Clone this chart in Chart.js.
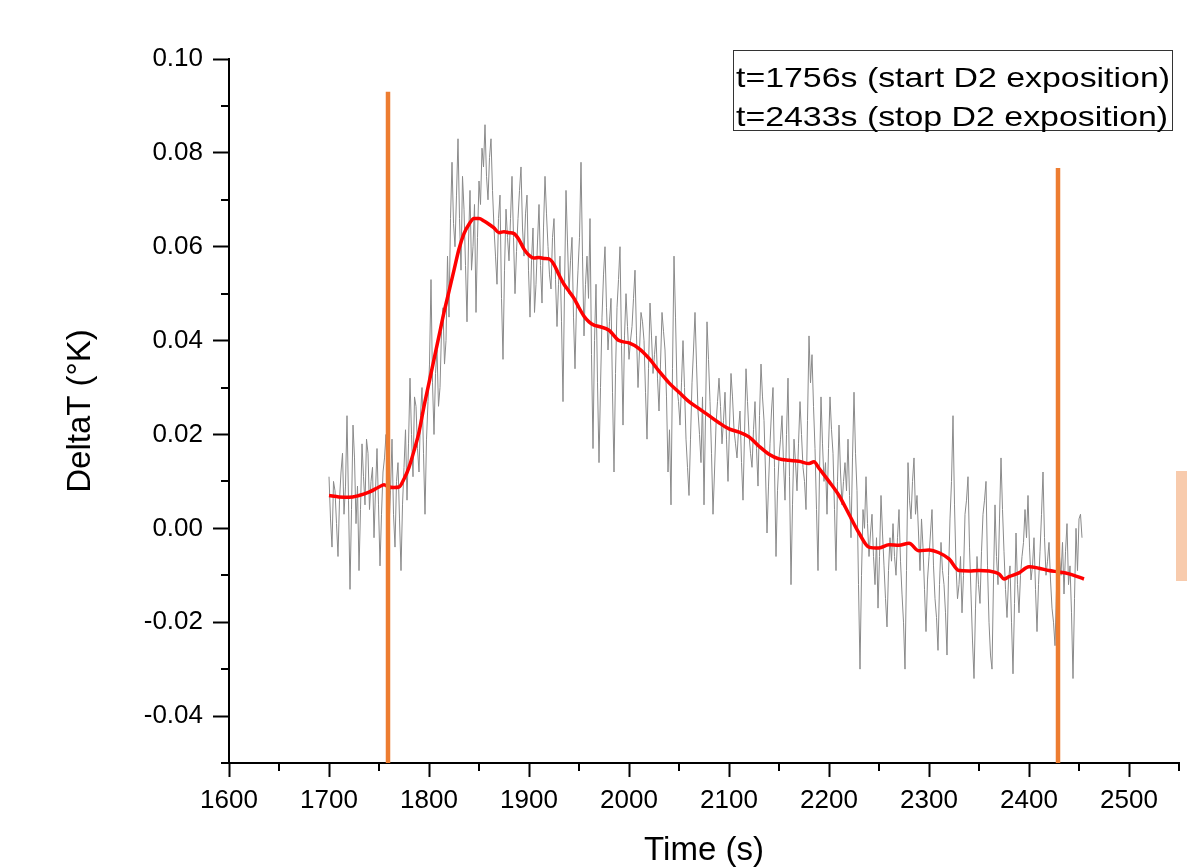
<!DOCTYPE html>
<html><head><meta charset="utf-8">
<script src="https://cdn.jsdelivr.net/npm/chart.js@4.4.1/dist/chart.umd.min.js"></script>
<style>html,body{margin:0;padding:0;background:#fff;overflow:hidden;}</style>
</head><body>
<canvas id="c" width="1187" height="867"></canvas>
<script>
// ---- data ----
const timeS = [
1700,1703,1706,1709,1712,1715,1718,1721,1724,1727,
1730,1733,1736,1739,1742,1745,1748,1751,1754,1757,
1760,1763,1766,1769,1772,1775,1778,1781,1784,1787,
1790,1793,1796,1799,1802,1805,1808,1811,1814,1817,
1820,1823,1826,1829,1832,1835,1838,1841,1844,1847,
1850,1853,1856,1859,1862,1865,1868,1871,1874,1877,
1880,1883,1886,1889,1892,1895,1898,1901,1904,1907,
1910,1913,1916,1919,1922,1925,1928,1931,1934,1937,
1940,1943,1946,1949,1952,1955,1958,1961,1964,1967,
1970,1973,1976,1979,1982,1985,1988,1991,1994,1997,
2000,2003,2006,2009,2012,2015,2018,2021,2024,2027,
2030,2033,2036,2039,2042,2045,2048,2051,2054,2057,
2060,2063,2066,2069,2072,2075,2078,2081,2084,2087,
2090,2093,2096,2099,2102,2105,2108,2111,2114,2117,
2120,2123,2126,2129,2132,2135,2138,2141,2144,2147,
2150,2153,2156,2159,2162,2165,2168,2171,2174,2177,
2180,2183,2186,2189,2192,2195,2198,2201,2204,2207,
2210,2213,2216,2219,2222,2225,2228,2231,2234,2237,
2240,2243,2246,2249,2252,2255,2258,2261,2264,2267,
2270,2273,2276,2279,2282,2285,2288,2291,2294,2297,
2300,2303,2306,2309,2312,2315,2318,2321,2324,2327,
2330,2333,2336,2339,2342,2345,2348,2351,2354,2357,
2360,2363,2366,2369,2372,2375,2378,2381,2384,2387,
2390,2393,2396,2399,2402,2405,2408,2411,2414,2417,
2420,2423,2426,2429,2432,2435,2438,2441,2444,2447,
2450,2453];

const deltaT = [
0.011,-0.004,0.008,-0.006,0.012,0.003,0.024,-0.013,0.022,0.001,
-0.009,0.018,0.005,0.016,0.010,-0.002,0.017,-0.008,0.012,0.020,
0.000,0.019,-0.004,0.014,-0.009,0.013,0.006,0.032,0.011,0.026,
0.012,0.030,0.003,0.027,0.053,0.020,0.038,0.030,0.047,0.040,
0.045,0.078,0.060,0.083,0.055,0.068,0.044,0.072,0.060,0.046,
0.074,0.081,0.086,0.070,0.083,0.064,0.052,0.071,0.036,0.068,
0.057,0.075,0.050,0.066,0.077,0.058,0.071,0.045,0.064,0.052,
0.069,0.048,0.075,0.060,0.051,0.066,0.043,0.058,0.027,0.072,
0.050,0.062,0.034,0.055,0.078,0.041,0.058,0.066,0.017,0.052,
0.014,0.045,0.060,0.038,0.049,0.012,0.047,0.060,0.022,0.050,
0.036,0.043,0.055,0.030,0.046,0.040,0.019,0.048,0.033,0.041,
0.025,0.046,0.038,0.012,0.005,0.058,0.030,0.022,0.040,0.019,
0.007,0.031,0.046,0.025,0.014,0.005,0.044,0.027,0.003,0.022,
0.032,0.018,0.029,0.010,0.033,0.021,0.015,0.025,0.006,0.034,
0.020,0.013,0.027,0.009,0.035,0.023,-0.001,0.018,0.030,-0.006,
0.015,0.024,0.006,0.032,-0.012,0.019,0.008,0.027,0.013,0.004,
0.041,0.037,0.017,-0.009,0.028,0.010,0.003,0.028,0.016,-0.009,
0.022,0.005,0.014,0.019,-0.002,0.029,0.008,-0.030,0.004,0.011,
-0.006,0.003,-0.012,-0.017,0.007,-0.008,-0.021,-0.002,0.001,-0.010,
0.004,-0.014,-0.030,0.014,0.002,0.015,0.007,-0.009,-0.004,-0.022,
-0.006,0.004,-0.015,-0.026,-0.003,-0.012,-0.027,0.002,0.024,-0.008,
-0.012,-0.018,0.003,0.011,-0.014,-0.032,-0.006,-0.016,0.003,0.010,
-0.020,-0.030,0.005,-0.012,0.015,-0.005,-0.019,-0.008,-0.031,-0.001,
-0.018,-0.006,0.004,0.007,-0.011,-0.002,-0.022,-0.005,0.012,-0.010,
-0.003,-0.017,-0.025,-0.004,-0.010,-0.014,0.001,-0.008,-0.032,0.000,
0.002,-0.002];

// samples taken half-way between the ones above
const timeMid = [
1701.5,1704.5,1707.5,1710.5,1713.5,1716.5,1719.5,1722.5,1725.5,1728.5,
1731.5,1734.5,1737.5,1740.5,1743.5,1746.5,1749.5,1752.5,1755.5,1758.5,
1761.5,1764.5,1767.5,1770.5,1773.5,1776.5,1779.5,1782.5,1785.5,1788.5,
1791.5,1794.5,1797.5,1800.5,1803.5,1806.5,1809.5,1812.5,1815.5,1818.5,
1821.5,1824.5,1827.5,1830.5,1833.5,1836.5,1839.5,1842.5,1845.5,1848.5,
1851.5,1854.5,1857.5,1860.5,1863.5,1866.5,1869.5,1872.5,1875.5,1878.5,
1881.5,1884.5,1887.5,1890.5,1893.5,1896.5,1899.5,1902.5,1905.5,1908.5,
1911.5,1914.5,1917.5,1920.5,1923.5,1926.5,1929.5,1932.5,1935.5,1938.5,
1941.5,1944.5,1947.5,1950.5,1953.5,1956.5,1959.5,1962.5,1965.5,1968.5,
1971.5,1974.5,1977.5,1980.5,1983.5,1986.5,1989.5,1992.5,1995.5,1998.5,
2001.5,2004.5,2007.5,2010.5,2013.5,2016.5,2019.5,2022.5,2025.5,2028.5,
2031.5,2034.5,2037.5,2040.5,2043.5,2046.5,2049.5,2052.5,2055.5,2058.5,
2061.5,2064.5,2067.5,2070.5,2073.5,2076.5,2079.5,2082.5,2085.5,2088.5,
2091.5,2094.5,2097.5,2100.5,2103.5,2106.5,2109.5,2112.5,2115.5,2118.5,
2121.5,2124.5,2127.5,2130.5,2133.5,2136.5,2139.5,2142.5,2145.5,2148.5,
2151.5,2154.5,2157.5,2160.5,2163.5,2166.5,2169.5,2172.5,2175.5,2178.5,
2181.5,2184.5,2187.5,2190.5,2193.5,2196.5,2199.5,2202.5,2205.5,2208.5,
2211.5,2214.5,2217.5,2220.5,2223.5,2226.5,2229.5,2232.5,2235.5,2238.5,
2241.5,2244.5,2247.5,2250.5,2253.5,2256.5,2259.5,2262.5,2265.5,2268.5,
2271.5,2274.5,2277.5,2280.5,2283.5,2286.5,2289.5,2292.5,2295.5,2298.5,
2301.5,2304.5,2307.5,2310.5,2313.5,2316.5,2319.5,2322.5,2325.5,2328.5,
2331.5,2334.5,2337.5,2340.5,2343.5,2346.5,2349.5,2352.5,2355.5,2358.5,
2361.5,2364.5,2367.5,2370.5,2373.5,2376.5,2379.5,2382.5,2385.5,2388.5,
2391.5,2394.5,2397.5,2400.5,2403.5,2406.5,2409.5,2412.5,2415.5,2418.5,
2421.5,2424.5,2427.5,2430.5,2433.5,2436.5,2439.5,2442.5,2445.5,2448.5,
2451.5];

const deltaTMid = [
0.002,0.010,0.001,0.006,0.016,0.009,0.006,0.004,0.015,0.009,
0.004,0.011,0.019,0.004,0.013,0.008,0.005,0.003,0.015,0.009,
0.008,0.003,0.010,0.002,0.005,0.021,0.018,0.020,0.028,0.017,
0.024,0.016,0.019,0.035,0.031,0.033,0.026,0.042,0.035,0.058,
0.066,0.065,0.071,0.066,0.075,0.056,0.061,0.055,0.069,0.062,
0.069,0.077,0.075,0.079,0.072,0.058,0.066,0.049,0.055,0.062,
0.066,0.062,0.059,0.072,0.064,0.067,0.055,0.057,0.046,0.061,
0.056,0.064,0.067,0.054,0.062,0.053,0.052,0.044,0.051,0.061,
0.057,0.045,0.048,0.062,0.058,0.052,0.049,0.037,0.040,0.031,
0.030,0.054,0.047,0.044,0.029,0.033,0.053,0.039,0.041,0.043,
0.040,0.049,0.041,0.038,0.044,0.029,0.034,0.041,0.037,0.032,
0.035,0.042,0.028,0.021,0.034,0.045,0.027,0.031,0.030,0.013,
0.019,0.038,0.035,0.020,0.028,0.024,0.036,0.016,0.012,0.027,
0.026,0.023,0.019,0.022,0.028,0.018,0.021,0.014,0.020,0.027,
0.016,0.021,0.017,0.024,0.028,0.012,0.009,0.025,0.013,0.008,
0.019,0.014,0.020,0.011,0.005,0.014,0.018,0.020,0.010,0.023,
0.031,0.026,0.004,0.012,0.018,0.014,0.017,0.021,0.004,0.010,
0.012,0.010,0.008,0.007,0.015,0.016,-0.012,-0.010,0.000,0.001,
-0.001,-0.006,-0.002,-0.006,-0.001,-0.015,-0.009,-0.007,-0.006,-0.002,
-0.007,-0.020,-0.009,0.006,0.010,0.003,-0.001,0.002,-0.013,-0.011,
-0.001,-0.008,-0.019,-0.012,-0.009,-0.018,-0.010,0.010,0.005,-0.015,
-0.006,-0.010,0.006,-0.004,-0.024,-0.017,-0.012,-0.005,0.006,-0.008,
-0.027,-0.011,-0.006,0.002,0.004,-0.013,-0.011,-0.020,-0.016,-0.012,
-0.010,-0.003,-0.002,-0.004,-0.008,-0.013,-0.012,0.003,-0.002,-0.007,
-0.011,-0.020,-0.013,-0.006,-0.003,-0.005,-0.012,-0.018,-0.015,-0.009,
0.003];

const smoothTime = [1700,1710,1720,1730,1740,1750,1755,1760,1765,1770,1775,1780,1785,1790,1795,1800,1805,1810,1815,1820,1825,1830,1835,1840,1845,1850,1855,1860,1865,1870,1875,1880,1885,1890,1895,1900,1905,1910,1915,1920,1925,1930,1935,1940,1945,1950,1955,1960,1965,1970,1980,1990,2000,2010,2020,2030,2040,2050,2060,2070,2080,2090,2100,2110,2120,2130,2140,2150,2160,2170,2180,2185,2190,2200,2210,2220,2230,2240,2250,2260,2270,2280,2290,2300,2310,2320,2330,2340,2350,2360,2370,2375,2380,2390,2400,2410,2420,2430,2440,2455];
const smoothDeltaT = [0.0070,0.0067,0.0066,0.0070,0.0077,0.0088,0.0093,0.0088,0.0087,0.0088,0.0105,0.0130,0.0165,0.0205,0.0260,0.0310,0.0360,0.0410,0.0460,0.0505,0.0550,0.0595,0.0628,0.0648,0.0660,0.0660,0.0655,0.0648,0.0640,0.0630,0.0632,0.0630,0.0628,0.0615,0.0595,0.0582,0.0576,0.0577,0.0575,0.0574,0.0562,0.0540,0.0520,0.0505,0.0490,0.0470,0.0452,0.0440,0.0433,0.0430,0.0422,0.0400,0.0395,0.0383,0.0362,0.0335,0.0310,0.0290,0.0270,0.0255,0.0240,0.0225,0.0212,0.0205,0.0195,0.0175,0.0158,0.0148,0.0145,0.0143,0.0138,0.0142,0.0128,0.0100,0.0070,0.0030,-0.0010,-0.0040,-0.0042,-0.0035,-0.0036,-0.0032,-0.0048,-0.0046,-0.0052,-0.0065,-0.0090,-0.0091,-0.0090,-0.0091,-0.0097,-0.0108,-0.0103,-0.0095,-0.0082,-0.0085,-0.0090,-0.0093,-0.0097,-0.0108];

const markerTimes = [1759, 2429];
const markerTops = [0.093, 0.0768];
const markerBottom = -0.05;

const xTickLabels = ['1600','1700','1800','1900','2000','2100','2200','2300','2400','2500'];
const yTickLabels = ['-0.04','-0.02','0.00','0.02','0.04','0.06','0.08','0.10'];
const noteLines = ['t=1756s (start D2 exposition)', 't=2433s (stop D2 exposition)'];

// ---- helpers ----
const FONT = '"Liberation Sans", Arial, Helvetica, sans-serif';
const yLabelOf = v => (Math.abs(v) < 1e-9 ? 0 : v).toFixed(2);
const xLabelOf = v => String(Math.round(v));
const isYMajor = v => yTickLabels.includes(yLabelOf(v));
const isXMajor = v => xTickLabels.includes(xLabelOf(v));

const grayData = timeS.map((t, i) => ({x: t, y: deltaT[i]}))
  .concat(timeMid.map((t, i) => ({x: t, y: deltaTMid[i]})))
  .sort((a, b) => a.x - b.x);
const redData = smoothTime.map((t, i) => ({x: t, y: smoothDeltaT[i]}));
const markerSets = markerTimes.map((t, i) => ({
  data: [{x: t, y: markerBottom}, {x: t, y: markerTops[i]}],
  borderColor: '#ED7D31', borderWidth: 4.5, pointRadius: 0, order: 0, tension: 0
}));

const extras = {
  id: 'extras',
  afterDraw(chart) {
    const ctx = chart.ctx;
    const xs = chart.scales.x, ys = chart.scales.y;
    ctx.save();
    // minor tick marks
    ctx.strokeStyle = '#000';
    ctx.lineWidth = 2;
    ys.ticks.forEach(t => {
      if (!isYMajor(t.value)) {
        const p = Math.round(ys.getPixelForValue(t.value));
        ctx.beginPath(); ctx.moveTo(ys.right - 8, p); ctx.lineTo(ys.right, p); ctx.stroke();
      }
    });
    xs.ticks.forEach(t => {
      if (!isXMajor(t.value)) {
        const p = Math.round(xs.getPixelForValue(t.value));
        ctx.beginPath(); ctx.moveTo(p, xs.top); ctx.lineTo(p, xs.top + 8); ctx.stroke();
      }
    });
    // annotation box
    ctx.lineWidth = 1;
    ctx.strokeStyle = '#333';
    ctx.strokeRect(733.5, 50.5, 439, 80);
    ctx.fillStyle = '#000';
    ctx.font = '28px ' + FONT;
    ctx.textBaseline = 'alphabetic';
    ctx.textAlign = 'left';
    const sx = 434 / ctx.measureText(noteLines[0]).width;
    [87, 126].forEach((by, i) => {
      ctx.save();
      ctx.translate(736, by);
      ctx.scale(sx, 1);
      ctx.fillText(noteLines[i], 0, 0);
      ctx.restore();
    });
    // light-orange strip at right edge
    ctx.fillStyle = '#F8CBAD';
    ctx.fillRect(1176, 471, 11, 110);
    ctx.restore();
  }
};

new Chart(document.getElementById('c'), {
  type: 'line',
  data: {
    datasets: [
      {data: grayData, borderColor: '#8a8a8a', borderWidth: 1, pointRadius: 0, order: 2, tension: 0},
      {data: redData, borderColor: '#FF0000', borderWidth: 3.5, pointRadius: 0, order: 1, cubicInterpolationMode: 'monotone'},
      ...markerSets
    ]
  },
  options: {
    responsive: false,
    animation: false,
    devicePixelRatio: 1,
    layout: {padding: {top: 59, right: 8, left: 0, bottom: 0}},
    plugins: {legend: {display: false}, tooltip: {enabled: false}},
    scales: {
      x: {
        type: 'linear', min: 1600, max: 2550,
        afterFit: s => { s.height = 104; },
        border: {display: true, color: '#000', width: 2},
        grid: {drawOnChartArea: false, drawTicks: true, tickLength: 14, tickWidth: 2,
               tickColor: c => (c.tick && isXMajor(c.tick.value)) ? '#000' : 'rgba(0,0,0,0)'},
        ticks: {stepSize: 50, autoSkip: false, maxRotation: 0, padding: 8, color: '#000',
                font: {family: FONT, size: 26},
                callback: v => isXMajor(v) ? xLabelOf(v) : ''},
        title: {display: true, text: 'Time (s)', color: '#000',
                font: {family: FONT, size: 33, lineHeight: 1}, padding: {top: 0, bottom: 0}}
      },
      y: {
        type: 'linear', min: -0.05, max: 0.10,
        afterFit: s => { s.width = 229; },
        border: {display: true, color: '#000', width: 2},
        grid: {drawOnChartArea: false, drawTicks: true, tickLength: 16, tickWidth: 2,
               tickColor: c => (c.tick && isYMajor(c.tick.value)) ? '#000' : 'rgba(0,0,0,0)'},
        ticks: {stepSize: 0.01, autoSkip: false, padding: 10, color: '#000',
                font: {family: FONT, size: 26},
                callback: v => isYMajor(v) ? yLabelOf(v) : ''},
        title: {display: true, text: 'DeltaT (°K)', color: '#000',
                font: {family: FONT, size: 33, lineHeight: 1}, padding: {top: 64, bottom: 0}}
      }
    }
  },
  plugins: [extras]
});
</script>
</body></html>
